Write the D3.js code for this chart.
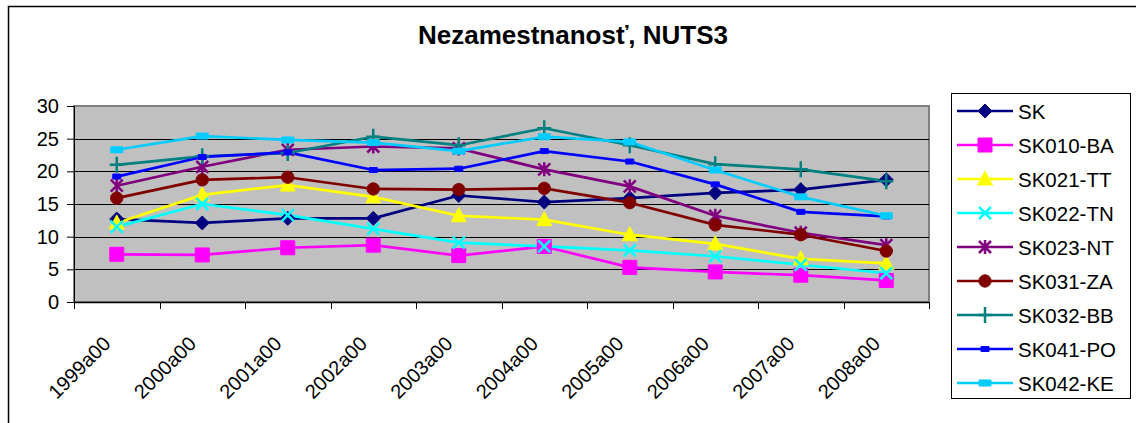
<!DOCTYPE html>
<html><head><meta charset="utf-8">
<script src="https://cdn.jsdelivr.net/npm/d3@7"></script>
<style>body{margin:0;background:#fff}svg{display:block;font-family:"Liberation Sans",Arial,sans-serif}</style>
</head><body>
<svg id="c" width="1136" height="423"></svg>
<script>
const title = "Nezamestnanosť, NUTS3";
const categories = ["1999a00","2000a00","2001a00","2002a00","2003a00","2004a00","2005a00","2006a00","2007a00","2008a00"];
const yTicks = [0,5,10,15,20,25,30];
const seriesNames = ["SK","SK010-BA","SK021-TT","SK022-TN","SK023-NT","SK031-ZA","SK032-BB","SK041-PO","SK042-KE"];
const SK   = [12.7,12.1,12.8,12.8,16.3,15.3,15.9,16.7,17.2,18.7];
const BA   = [7.3,7.2,8.3,8.7,7.1,8.5,5.3,4.6,4.1,3.3];
const TT   = [12.1,16.4,17.9,16.1,13.2,12.6,10.3,8.9,6.6,5.9];
const TN   = [11.5,15.0,13.3,11.2,9.1,8.5,7.9,7.0,5.7,4.4];
const NT   = [17.8,20.7,23.3,23.8,23.5,20.3,17.7,13.2,10.6,8.7];
const ZA   = [15.9,18.7,19.1,17.3,17.2,17.4,15.2,11.8,10.3,7.8];
const BB   = [21.0,22.3,22.8,25.3,24.0,26.6,24.0,21.1,20.3,18.5];
const PO   = [19.2,22.2,22.9,20.2,20.4,23.1,21.5,18.0,13.8,13.1];
const KE   = [23.3,25.4,24.8,24.4,23.1,25.3,24.5,20.2,16.1,13.2];
const seriesValues = [SK,BA,TT,TN,NT,ZA,BB,PO,KE];
const colors = ["#000080","#FF00FF","#FFFF00","#00FFFF","#800080","#800000","#008080","#0000FF","#00CCFF"];
const markers = ["diamond","square","triangle","x","asterisk","circle","plus","smalldash","dash"];

const svg = d3.select("#c");
const P = {l:74, r:929, t:106, b:302};

// outer chart border
svg.append("path").attr("d","M8.5,430 V6.5 H1140").attr("fill","none").attr("stroke","#000").attr("stroke-width",1.5);

svg.append("text").attr("x",573).attr("y",44).attr("text-anchor","middle")
  .attr("font-size",26).attr("font-weight","bold").text(title);

const x = d3.scaleBand().domain(categories).range([P.l,P.r]).paddingInner(0).paddingOuter(0);
const y = d3.scaleLinear().domain([0,30]).range([P.b,P.t]);

svg.append("rect").attr("x",P.l).attr("y",P.t).attr("width",P.r-P.l).attr("height",P.b-P.t)
  .attr("fill","#C0C0C0").attr("stroke","#808080").attr("stroke-width",2);

svg.append("g").selectAll("line").data(yTicks.filter(d=>d>0&&d<30)).join("line")
  .attr("x1",P.l).attr("x2",P.r).attr("y1",d=>Math.round(y(d))+0.5).attr("y2",d=>Math.round(y(d))+0.5)
  .attr("stroke","#000").attr("stroke-width",1);

// y axis
const yAxis = svg.append("g").attr("transform",`translate(${P.l},0)`)
  .call(d3.axisLeft(y).tickValues(yTicks).tickSize(7).tickPadding(8));
yAxis.selectAll("text").attr("font-size",20).attr("fill","#000").attr("font-family","Liberation Sans, Arial");
yAxis.select(".domain").attr("stroke","#000");

// x axis (ticks at band boundaries)
const bounds = categories.map(c=>x(c)).concat([P.r]);
const xg = svg.append("g");
xg.append("line").attr("x1",P.l).attr("x2",P.r).attr("y1",P.b+0.5).attr("y2",P.b+0.5).attr("stroke","#000").attr("stroke-width",1.5);
xg.selectAll("line.t").data(bounds).join("line").attr("class","t")
  .attr("x1",d=>Math.round(d)+0.5).attr("x2",d=>Math.round(d)+0.5).attr("y1",P.b).attr("y2",P.b+7).attr("stroke","#000");
xg.selectAll("text").data(categories).join("text")
  .attr("transform",d=>`translate(${x(d)+x.bandwidth()/2-5},${P.b+43}) rotate(-45)`)
  .attr("text-anchor","end").attr("font-size",20).text(d=>d);

function markerPath(type){
  switch(type){
    case "diamond": return "M0,-7L7,0L0,7L-7,0Z";
    case "square": return "M-7,-7H7V7H-7Z";
    case "triangle": return "M0,-8L7.5,6H-7.5Z";
    case "x": return "M-6,-6L6,6M6,-6L-6,6";
    case "asterisk": return "M-6,-6L6,6M6,-6L-6,6M0,-7V7";
    case "circle": return d3.symbol(d3.symbolCircle, 120)();
    case "plus": return "M-7,0H7M0,-8V8";
    case "smalldash": return "M-4,-2.5H4V2.5H-4Z";
    case "dash": return "M-6,-3H6V3H-6Z";
  }
}
function drawMarker(g, type, color){
  const stroked = (type==="x"||type==="asterisk"||type==="plus");
  g.append("path").attr("d",markerPath(type))
    .attr("fill",stroked?"none":color).attr("stroke",color).attr("stroke-width",stroked?2.5:1);
}

const line = d3.line().x((d,i)=>x(categories[i])+x.bandwidth()/2).y(d=>y(d));
seriesValues.forEach((vals,s)=>{
  svg.append("path").datum(vals).attr("d",line).attr("fill","none")
    .attr("stroke",colors[s]).attr("stroke-width",2.7).attr("stroke-linejoin","round");
});
seriesValues.forEach((vals,s)=>{
  vals.forEach((v,i)=>{
    const g = svg.append("g").attr("transform",`translate(${x(categories[i])+x.bandwidth()/2},${y(v)})`);
    drawMarker(g, markers[s], colors[s]);
  });
});

// legend
const L = {x:951, y:93, w:179, h:305};
svg.append("rect").attr("x",L.x+0.5).attr("y",L.y+0.5).attr("width",L.w).attr("height",L.h)
  .attr("fill","#fff").attr("stroke","#000").attr("stroke-width",1);
seriesNames.forEach((n,s)=>{
  const cy = 111 + s*34;
  svg.append("line").attr("x1",957).attr("x2",1013).attr("y1",cy).attr("y2",cy)
    .attr("stroke",colors[s]).attr("stroke-width",2.7);
  const g = svg.append("g").attr("transform",`translate(985,${cy})`);
  drawMarker(g, markers[s], colors[s]);
  svg.append("text").attr("x",1018).attr("y",cy+7.5).attr("font-size",20.5).text(n);
});
</script>
</body></html>
